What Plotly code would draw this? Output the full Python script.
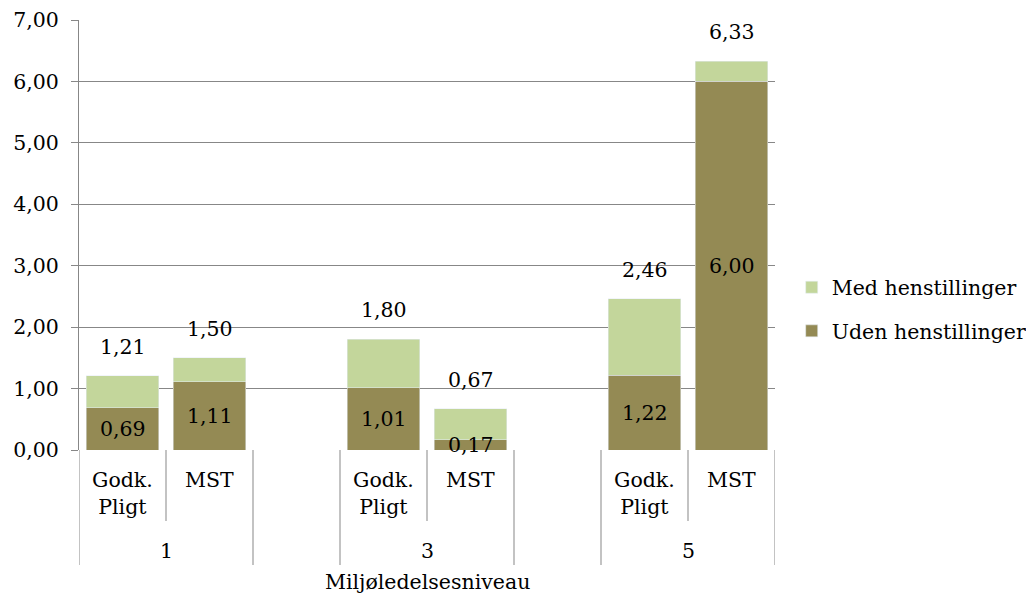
import plotly.graph_objects as go

# Data
sub_labels = ["Godk.<br>Pligt", "MST", "Godk.<br>Pligt", "MST", "Godk.<br>Pligt", "MST"]
group_labels = ["1", "3", "5"]
x_pos = [0, 1, 3, 4, 6, 7]
uden = [0.69, 1.11, 1.01, 0.17, 1.22, 6.00]
total = [1.21, 1.50, 1.80, 0.67, 2.46, 6.33]
med = [round(t - u, 2) for t, u in zip(total, uden)]
y_ticks = [0, 1, 2, 3, 4, 5, 6, 7]

DARK = "#948A54"
LIGHT = "#C3D69B"
GRID = "#878787"
FONT = "DejaVu Serif"
FS = 20.5

def fmt(v):
    return f"{v:.2f}".replace(".", ",")

fig = go.Figure()
fig.add_trace(go.Bar(x=x_pos, y=uden, name="Uden henstillinger", marker_color=DARK,
                     width=0.83, legendgroup="u", legendrank=2))
fig.add_trace(go.Bar(x=x_pos, y=med, name="Med henstillinger", marker_color=LIGHT,
                     width=0.83, legendgroup="m", legendrank=1))

ann = []
for x, u, t in zip(x_pos, uden, total):
    ann.append(dict(x=x, y=u / 2, text=fmt(u), showarrow=False, xref="x", yref="y",
                    font=dict(family=FONT, size=FS, color="black")))
    ann.append(dict(x=x, y=t, text=fmt(t), showarrow=False, xref="x", yref="y",
                    yanchor="middle", yshift=29,
                    font=dict(family=FONT, size=FS, color="black")))
for x, s in zip(x_pos, sub_labels):
    ann.append(dict(x=x, y=0, text=s, showarrow=False, xref="x", yref="paper",
                    yanchor="top", yshift=-16,
                    font=dict(family=FONT, size=FS, color="black")))
for g, xc in zip(group_labels, [0.5, 3.5, 6.5]):
    ann.append(dict(x=xc, y=0, text=g, showarrow=False, xref="x", yref="paper",
                    yanchor="middle", yshift=-101,
                    font=dict(family=FONT, size=FS, color="black")))
ann.append(dict(x=3.5, y=0, text="Miljøledelsesniveau", showarrow=False, xref="x",
                yref="paper", yanchor="middle", yshift=-132,
                font=dict(family=FONT, size=FS, color="black")))

shapes = []
short = -71 / 430
long_ = -115 / 430
for b in [-0.5, 1.5, 2.5, 4.5, 5.5, 7.5]:
    shapes.append(dict(type="line", xref="x", yref="paper", x0=b, x1=b, y0=0, y1=long_,
                       line=dict(color=GRID, width=1)))
for b in [0.5, 3.5, 6.5]:
    shapes.append(dict(type="line", xref="x", yref="paper", x0=b, x1=b, y0=0, y1=short,
                       line=dict(color=GRID, width=1)))

fig.update_layout(
    barmode="stack",
    width=1026, height=585,
    margin=dict(l=71, r=259, t=12, b=143, autoexpand=False),
    paper_bgcolor="white", plot_bgcolor="white",
    separators=",.",
    font=dict(family=FONT, size=FS, color="black"),
    annotations=ann, shapes=shapes,
    xaxis=dict(range=[-0.5, 7.5], showticklabels=False, showgrid=False, zeroline=False,
               showline=False, ticks="", automargin=False),
    yaxis=dict(range=[0, 7], tickvals=y_ticks, tickformat=".2f", showgrid=True,
               gridcolor=GRID, gridwidth=1, showline=True, linecolor=GRID, linewidth=1,
               ticks="outside", ticklen=7, tickcolor=GRID, zeroline=False,
               ticklabelstandoff=8, automargin=False,
               tickfont=dict(family=FONT, size=FS, color="black")),
    legend=dict(x=1.024, y=0.327, xanchor="left", yanchor="middle",
                traceorder="grouped",
                tracegroupgap=14, font=dict(family=FONT, size=FS, color="black"),
                itemwidth=30),
    bargap=0.17,
)
fig.write_html("out.html")
